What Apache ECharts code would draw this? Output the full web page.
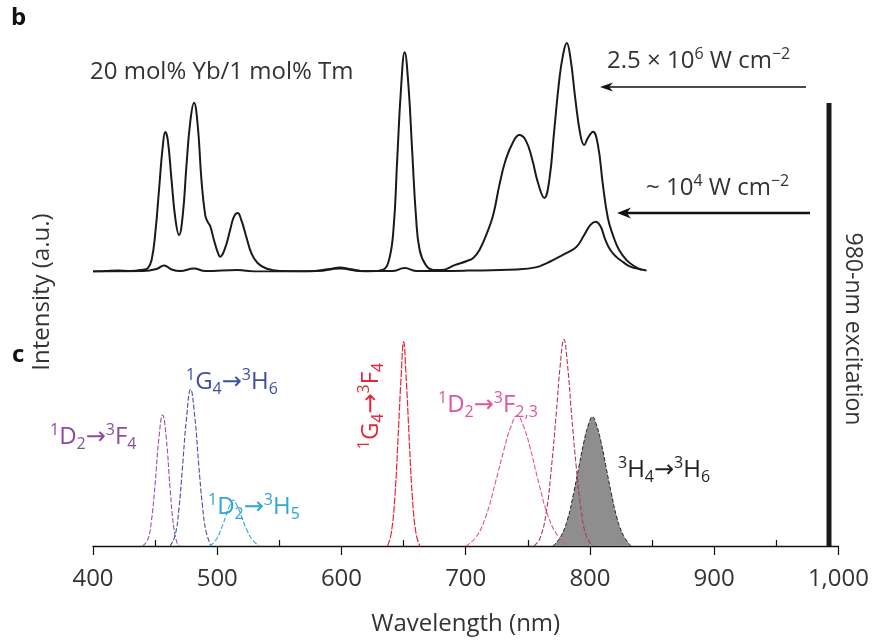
<!DOCTYPE html>
<html><head><meta charset="utf-8">
<script src="https://cdn.jsdelivr.net/npm/echarts@6/dist/echarts.min.js"></script>
<style>html,body{margin:0;padding:0;background:#fff}#c{width:872px;height:643px}</style>
</head><body><div id="c"></div>
<script>
// ---- Panel b: measured spectra (20 mol% Yb / 1 mol% Tm) ----
const highWl = [400,410,420,430,440,444,447,450,453,456,458,460,463,466,469,472,475,478,481,484,487,490,492,494,497,500,502,506,510,513,516,519,523,527,532,539,550,570,590,598,606,620,632,637,641,644,647,650,653,656,659,662,667,673,680,690,700,705,710,716,721,726,731,737,742,747,752,757,762,766,770,774,777,780,783,787,791,794,797,801,805,809,813,817,822,828,834,840];
const highI  = [0,0.2,0.4,0.2,0.8,1.5,5,17,36,55,61,57.5,40,23.4,16,24.7,46.6,65.4,73.9,64,40,24.7,21.7,19.9,13.8,8.5,6.5,10.3,18.2,23.9,25.6,22.5,15.1,8.1,3.7,1.3,0.2,0,1.1,1.8,1.1,0,0.7,4.2,18.2,48.8,79.4,96,81.6,53,24.7,9.4,2.8,0.7,0.7,2.8,4.6,5.9,9.4,16.8,24.7,37.9,48.8,56.7,59.7,57.5,49.7,38.7,32.2,40,61.9,83.8,94.7,100,93.4,75,59.7,55.4,58.5,61.2,55.4,37.9,23.4,16,9.4,5,2.4,0.7];
const lowWl = [400,440,451,457,463,470,481,490,516,530,580,598,615,640,650,660,700,740,755,764,772,780,788,794,799,803,807,811,815,820,825,831,838,844];
const lowI  = [0,0.2,1.1,2.6,0.9,0.2,1.3,0.2,0.7,0,0.2,1.3,0.2,0.2,1.5,0.2,0.4,0.9,1.8,3.7,5.9,8.1,10.9,16,20.4,21.8,19.9,13.8,9.4,6.3,4.2,2.1,1.1,0.4];

// ---- Panel c: individual transitions ----
const d2f4Wl = [440,444,447,450,453,456,459,462,465,468,470];
const d2f4I  = [0,3,12,30,52,63.3,52,28,9,1,0];
const g4h6Wl = [462,466,469,472,475,478.6,482,485,488,491,495];
const g4h6I  = [0,5,17,38,60,75.7,62,40,20,7,0];
const d2h5Wl = [494,499,503,507,510,512.6,516,520,524,529,534];
const d2h5I  = [0,3,8,14.5,19.5,22.2,19.5,13.5,7.5,2.5,0];
const g4f4Wl = [637,640,643,646,648,650,652,654,657,660,663];
const g4f4I  = [0,6,24,58,82,98.7,82,58,24,6,0];
const d2f23Wl = [700,708,716,724,731,736,741.4,747,752,759,766,774,783];
const d2f23I  = [0,4,14,31,47,57,63,57,47,30,15,5,0];
const g4h5Wl = [755,760,765,769,773,776,779,782,785,789,793,797,802];
const g4h5I  = [0,4,17,38,65,87,99.9,87,65,38,17,5,0];
const h4h6Wl = [770,776,782,787,791,795,799,802,805,809,813,817,822,827,833];
const h4h6I  = [0,4,13,26,38,50,59,62.5,59,50,38,26,13,5,0];

// ---- axis ----
const xMin = 400, xMax = 1000, xStep = 100;
const minorTicks = [450,550,650,750,850,950];
const xTitle = 'Wavelength (nm)';
const yTitle = 'Intensity (a.u.)';

const zip = (a,b) => a.map((v,i)=>[v,b[i]]);
const FONT = '"Open Sans", "DejaVu Sans", sans-serif';
const TXT = '#333';
const FS = 24;

function rich(color, size) {
  const ss = Math.round(size*0.66);
  return {
    n: {fontSize: size, fontFamily: FONT, fill: color, lineHeight: 30, verticalAlign: 'middle'},
    s: {fontSize: ss, fontFamily: FONT, fill: color, verticalAlign: 'top'},
    b: {fontSize: ss, fontFamily: FONT, fill: color, verticalAlign: 'bottom'}
  };
}
function rtext(x, y, text, color, size, extra) {
  return Object.assign({
    type: 'text', x: x, y: y, z: 100,
    style: {text: text, rich: rich(color, size), fill: color, font: size + 'px ' + FONT,
            textAlign: 'left', textVerticalAlign: 'middle'}
  }, extra || {});
}
function arrow(x1, x2, y, w, head, hw) {
  return [
    {type:'line', shape:{x1:x1, y1:y, x2:x2+head*0.6, y2:y}, style:{stroke:'#111', lineWidth:w}},
    {type:'polygon', shape:{points:[[x2,y],[x2+head,y-hw],[x2+head*0.7,y],[x2+head,y+hw]]}, style:{fill:'#111'}}
  ];
}

const chart = echarts.init(document.getElementById('c'), null, {renderer:'canvas'});
const dash = [5,2];
function cLine(name, wl, vals, color, extra) {
  return Object.assign({
    name: name, type:'line', xAxisIndex:1, yAxisIndex:1, data: zip(wl, vals),
    smooth: 0.45, symbol:'none', lineStyle:{color:color, width:1.1, type:dash}, silent:true
  }, extra || {});
}

chart.setOption({
  animation: false,
  backgroundColor: '#fff',
  grid: [
    {left: 93, right: 31, top: 43, bottom: 371.5},
    {left: 93, right: 31, top: 339, bottom: 97}
  ],
  xAxis: [
    {gridIndex:0, type:'value', min:xMin, max:xMax, interval:xStep, show:false},
    {gridIndex:1, type:'value', min:xMin, max:xMax, interval:xStep,
     axisLine:{lineStyle:{color:'#111', width:1.3}},
     axisTick:{inside:false, length:9, lineStyle:{color:'#111', width:1.2}},
     splitLine:{show:false},
     axisLabel:{fontSize:FS, color:TXT, fontFamily:FONT, margin:21,
                formatter: v => v >= 1000 ? (Math.floor(v/1000) + ',' + String(v%1000).padStart(3,'0')) : String(v)},
     name: xTitle, nameLocation:'middle', nameGap:66,
     nameTextStyle:{fontSize:FS, color:TXT, fontFamily:FONT}},
    {gridIndex:1, type:'value', min:xMin, max:xMax, position:'bottom',
     axisLine:{show:false}, splitLine:{show:false},
     axisTick:{show:true, inside:true, length:6, customValues:minorTicks, lineStyle:{color:'#111', width:1.2}},
     axisLabel:{show:false}}
  ],
  yAxis: [
    {gridIndex:0, type:'value', min:0, max:100, show:false},
    {gridIndex:1, type:'value', min:0, max:100, show:false}
  ],
  series: [
    {name:'high', type:'line', xAxisIndex:0, yAxisIndex:0, data:zip(highWl, highI), smooth:0.45,
     symbol:'none', lineStyle:{color:'#1a1a1a', width:2}, silent:true},
    {name:'low', type:'line', xAxisIndex:0, yAxisIndex:0, data:zip(lowWl, lowI), smooth:0.45,
     symbol:'none', lineStyle:{color:'#1a1a1a', width:2}, silent:true},
    cLine('1D2-3F4', d2f4Wl, d2f4I, '#9c4fae'),
    cLine('1G4-3H6', g4h6Wl, g4h6I, '#3f4fa3'),
    cLine('1D2-3H5', d2h5Wl, d2h5I, '#35a9d6'),
    cLine('1G4-3F4', g4f4Wl, g4f4I, '#e3263a', {lineStyle:{color:'#e3263a', width:1.2, type:[7,1.5]}}),
    cLine('1D2-3F23', d2f23Wl, d2f23I, '#e0549a'),
    cLine('3H4-3H6', h4h6Wl, h4h6I, '#222', {areaStyle:{color:'#8e8e8e', opacity:1}, lineStyle:{color:'#222', width:1, type:[4,2]}}),
    cLine('1G4-3H5', g4h5Wl, g4h5I, '#b23a4c')
  ],
  graphic: [
    {type:'text', x:11, y:18, style:{text:'b', font:'bold 24px ' + FONT, fill:'#111', textVerticalAlign:'middle'}},
    {type:'text', x:12, y:355, style:{text:'c', font:'bold 24px ' + FONT, fill:'#111', textVerticalAlign:'middle'}},
    {type:'text', x:42, y:292, rotation:Math.PI/2,
     style:{text:yTitle, font:FS + 'px ' + FONT, fill:TXT, textAlign:'center', textVerticalAlign:'middle'}},
    {type:'text', x:853, y:329, rotation:-Math.PI/2,
     style:{text:'980-nm excitation', font:'23px ' + FONT, fill:TXT, textAlign:'center', textVerticalAlign:'middle'}},
    {type:'rect', shape:{x:826.5, y:103, width:5, height:443}, style:{fill:'#1a1a1a'}},
    {type:'text', x:90, y:72, style:{text:'20 mol% Yb/1 mol% Tm', font:FS + 'px ' + FONT, fill:TXT, textVerticalAlign:'middle'}},
    rtext(607, 61, '{n|2.5 × 10}{s|6}{n| W cm}{s|−2}', TXT, FS),
    rtext(646, 188, '{n|~ 10}{s|4}{n| W cm}{s|−2}', TXT, FS),
    ...arrow(806, 600, 87, 1.5, 13, 4.5),
    ...arrow(810, 617, 213, 2.5, 14, 5.5),
    rtext(50, 437, '{s|1}{n|D}{b|2}{n|→}{s|3}{n|F}{b|4}', '#8e4a9f', FS),
    rtext(186, 382, '{s|1}{n|G}{b|4}{n|→}{s|3}{n|H}{b|6}', '#3f4f9f', FS),
    rtext(208, 507, '{s|1}{n|D}{b|2}{n|→}{s|3}{n|H}{b|5}', '#2fa6d4', FS),
    rtext(371, 406, '{s|1}{n|G}{b|4}{n|→}{s|3}{n|F}{b|4}', '#e3263a', FS, {rotation:Math.PI/2, style:{text:'{s|1}{n|G}{b|4}{n|→}{s|3}{n|F}{b|4}', rich: rich('#e3263a', FS), textAlign:'center', textVerticalAlign:'middle'}}),
    rtext(438, 405, '{s|1}{n|D}{b|2}{n|→}{s|3}{n|F}{b|2,3}', '#e0549a', FS),
    rtext(618, 470, '{s|3}{n|H}{b|4}{n|→}{s|3}{n|H}{b|6}', '#222', FS)
  ]
});
</script></body></html>
